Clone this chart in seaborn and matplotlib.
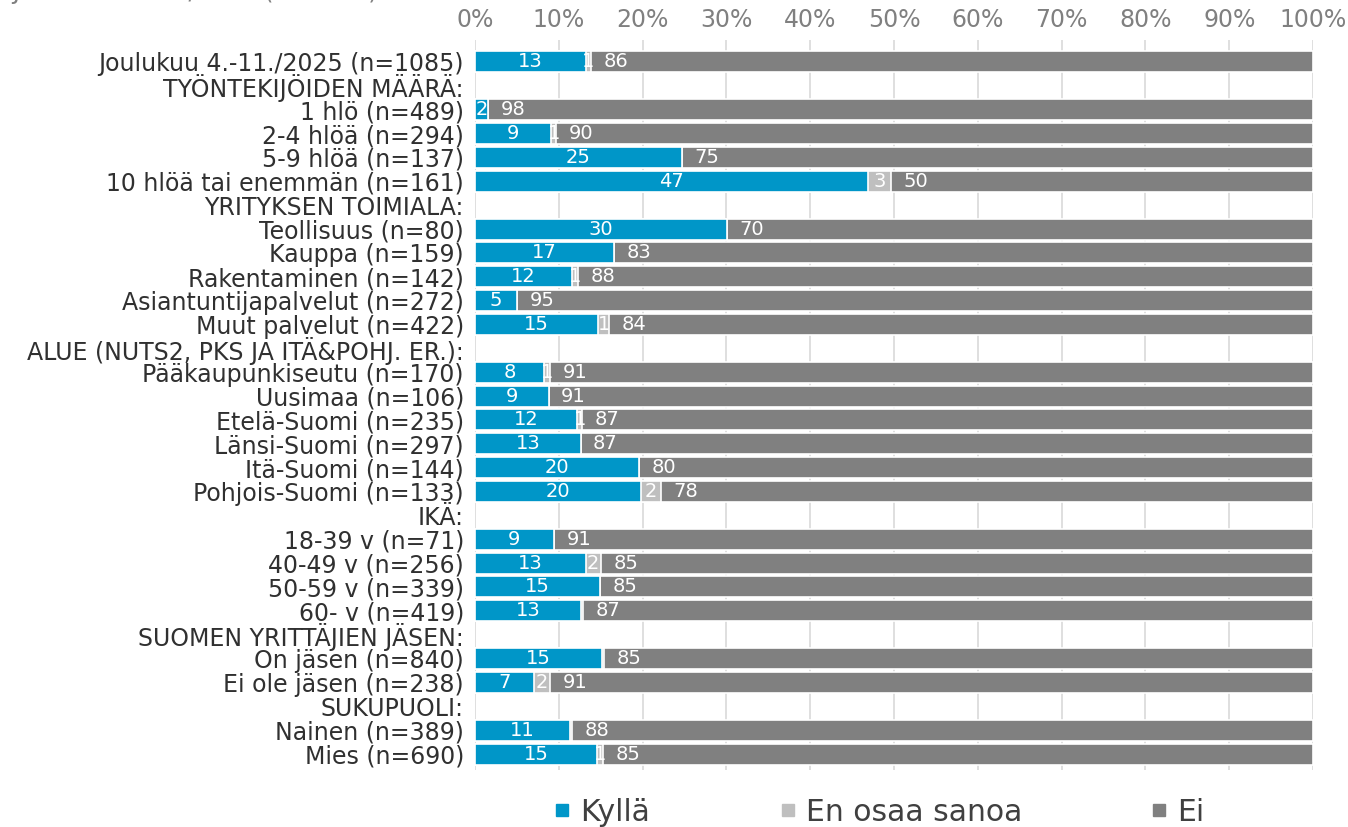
import numpy as np
import pandas as pd
import matplotlib
matplotlib.use("Agg")
import matplotlib.pyplot as plt
import seaborn as sns
from matplotlib.lines import Line2D

# Ryhmät ylhäältä alas (otsikkorivit ilman pylvästä)
categories = [
    "Joulukuu 4.-11./2025 (n=1085)",
    "TYÖNTEKIJÖIDEN MÄÄRÄ:",
    "1 hlö (n=489)",
    "2-4 hlöä (n=294)",
    "5-9 hlöä (n=137)",
    "10 hlöä tai enemmän (n=161)",
    "YRITYKSEN TOIMIALA:",
    "Teollisuus (n=80)",
    "Kauppa (n=159)",
    "Rakentaminen (n=142)",
    "Asiantuntijapalvelut (n=272)",
    "Muut palvelut (n=422)",
    "ALUE (NUTS2, PKS JA ITÄ&POHJ. ER.):",
    "Pääkaupunkiseutu (n=170)",
    "Uusimaa (n=106)",
    "Etelä-Suomi (n=235)",
    "Länsi-Suomi (n=297)",
    "Itä-Suomi (n=144)",
    "Pohjois-Suomi (n=133)",
    "IKÄ:",
    "18-39 v (n=71)",
    "40-49 v (n=256)",
    "50-59 v (n=339)",
    "60- v (n=419)",
    "SUOMEN YRITTÄJIEN JÄSEN:",
    "On jäsen (n=840)",
    "Ei ole jäsen (n=238)",
    "SUKUPUOLI:",
    "Nainen (n=389)",
    "Mies (n=690)",
]
nan = np.nan
kylla = [13.2, nan, 1.6, 9.1, 24.7, 46.9, nan, 30.1, 16.6, 11.6, 5.0, 14.7, nan,
         8.2, 8.8, 12.2, 12.6, 19.6, 19.8, nan, 9.4, 13.2, 14.9, 12.6, nan,
         15.2, 7.0, nan, 11.3, 14.6]
eos = [0.7, nan, 0.0, 0.6, 0.0, 2.7, nan, 0.0, 0.0, 0.7, 0.0, 1.3, nan,
       0.8, 0.0, 0.6, 0.0, 0.0, 2.4, nan, 0.0, 1.8, 0.0, 0.3, nan,
       0.2, 2.0, nan, 0.3, 0.7]
ei = [86.1, nan, 98.4, 90.3, 75.3, 50.4, nan, 69.9, 83.4, 87.7, 95.0, 84.0, nan,
      91.0, 91.2, 87.2, 87.4, 80.4, 77.8, nan, 90.6, 85.0, 85.1, 87.1, nan,
      84.6, 91.0, nan, 88.4, 84.7]
series_names = ["Kyllä", "En osaa sanoa", "Ei"]

KYLLA_C = "#0096C8"
EOS_C = "#BFBFBF"
EI_C = "#808080"

df = pd.DataFrame({"ryhma": categories, "kylla": kylla, "eos": eos, "ei": ei})
df["k_eos"] = df["kylla"] + df["eos"]
df["total"] = df["k_eos"] + df["ei"]

sns.set_theme(style="white")
plt.rcParams["font.family"] = ["DejaVu Sans"]

fig = plt.figure(figsize=(13.48, 8.27), dpi=100)
ax = fig.add_axes([475 / 1348, 1 - 770 / 827, 838 / 1348, 730 / 827])

# pinotut pylväät: piirretään kumulatiiviset summat päällekkäin
for col, color in [("total", EI_C), ("k_eos", EOS_C), ("kylla", KYLLA_C)]:
    sns.barplot(data=df, x=col, y="ryhma", order=categories, color=color,
                saturation=1, width=0.88, edgecolor="white", linewidth=1.2,
                errorbar=None, ax=ax, zorder=3)

def rnd(v):
    return int(np.floor(v + 0.5))

for i, row in df.iterrows():
    if np.isnan(row["kylla"]):
        continue
    k, e, n = row["kylla"], row["eos"], row["ei"]
    if rnd(k) >= 1:
        ax.text(k / 2, i, str(rnd(k)), ha="center", va="center",
                color="white", fontsize=14, zorder=5)
    if rnd(e) >= 1:
        ax.text(k + e / 2, i, str(rnd(e)), ha="center", va="center",
                color="white", fontsize=14, zorder=5)
    if rnd(n) >= 1:
        ax.annotate(str(rnd(n)), xy=(k + e, i), xytext=(9, 0),
                    textcoords="offset points", ha="left", va="center",
                    color="white", fontsize=14, zorder=5)

ax.set_xlim(0, 100)
ax.set_ylim(29.67, -0.92)
ax.set_xticks(range(0, 101, 10))
ax.set_xticklabels([f"{v}%" for v in range(0, 101, 10)])
ax.xaxis.tick_top()
ax.tick_params(axis="x", length=0, pad=6, labelsize=17, labelcolor="#808080")
ax.tick_params(axis="y", length=0, pad=8, labelsize=17, labelcolor="#303030")
ax.set_xlabel("")
ax.set_ylabel("")
ax.grid(axis="x", color="#D9D9D9", lw=1.2, zorder=0)
ax.set_axisbelow(True)
for s in ax.spines.values():
    s.set_visible(False)

# yläreunan leikkautunut teksti (näkyy vain alaosa, kuten mallissa)
fig.text(378 / 1348, 1 + 1 / 827, "Joulukuu 4.-11./2025 (n=1085)", ha="right",
         va="baseline", fontsize=17, color="#808080")

handles = [Line2D([], [], marker="s", ls="", color=c, markersize=8)
           for c in [KYLLA_C, EOS_C, EI_C]]
leg = fig.legend(handles, series_names, loc="center", bbox_to_anchor=(0.652, 0.018),
                 ncol=3, frameon=False, fontsize=21.5, handletextpad=0.3,
                 columnspacing=4.3, handlelength=0.6)
for t in leg.get_texts():
    t.set_color("#404040")

fig.savefig("out.png", dpi=100)
